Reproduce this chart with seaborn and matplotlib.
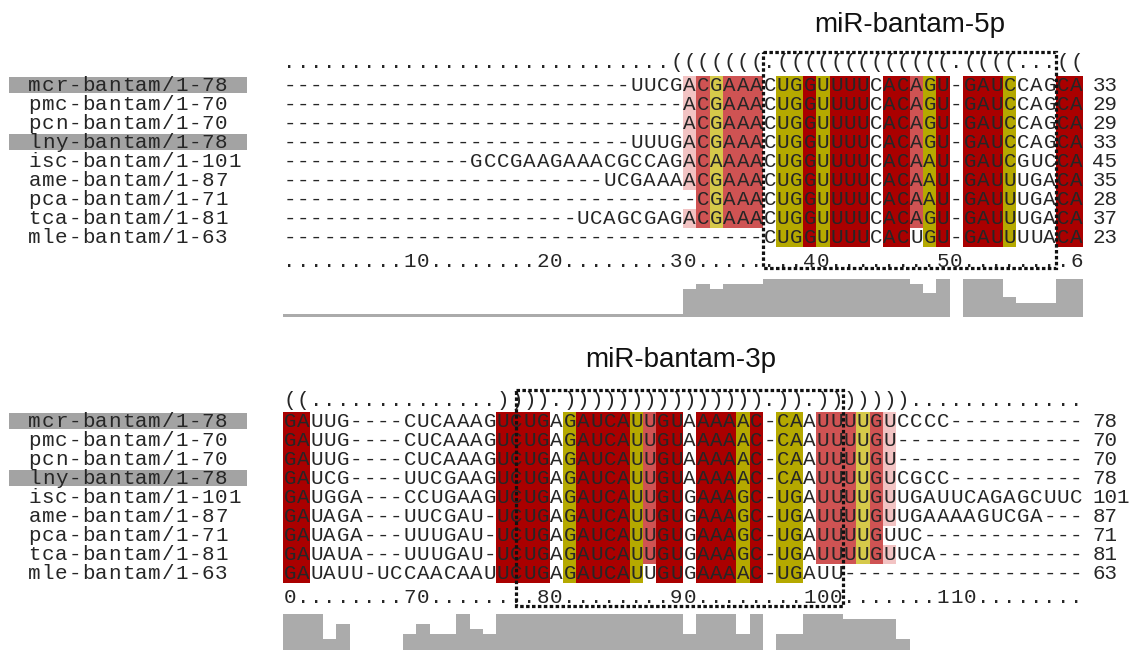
import numpy as np
import pandas as pd
import seaborn as sns
import matplotlib
import matplotlib.pyplot as plt
from matplotlib.colors import ListedColormap
from matplotlib.patches import Rectangle

matplotlib.use('agg')
sns.set_style("white")
plt.rcParams['font.family'] = ['Liberation Mono', 'DejaVu Sans Mono']

names = ["mcr-bantam/1-78", "pmc-bantam/1-70", "pcn-bantam/1-70", "lny-bantam/1-78",
         "isc-bantam/1-101", "ame-bantam/1-87", "pca-bantam/1-71", "tca-bantam/1-81",
         "mle-bantam/1-63"]
highlighted = ["mcr-bantam/1-78", "lny-bantam/1-78"]

# alignment columns 1-60
seq_top = [
    "-" * 26 + "UUCGACGAAACUGGUUUUCACAGU-GAUCCAGCA",
    "-" * 30 + "ACGAAACUGGUUUUCACAGU-GAUCCAGCA",
    "-" * 30 + "ACGAAACUGGUUUUCACAGU-GAUCCAGCA",
    "-" * 26 + "UUUGACGAAACUGGUUUUCACAGU-GAUCCAGCA",
    "-" * 14 + "GCCGAAGAAACGCCAGACAAAACUGGUUUUCACAAU-GAUCGUCCA",
    "-" * 24 + "UCGAAAACGAAACUGGUUUUCACAAU-GAUUUGACA",
    "-" * 31 + "CGAAACUGGUUUUCACAAU-GAUUUGACA",
    "-" * 22 + "UCAGCGAGACGAAACUGGUUUUCACAGU-GAUUUGACA",
    "-" * 36 + "CUGGUUUUCACUGU-GAUUUUACA",
]
# alignment columns 61-120
seq_bottom = [
    "GAUUG----CUCAAAGUCUGAGAUCAUUGUAAAAAC-CAAUUUUGUCCCC" + "-" * 10,
    "GAUUG----CUCAAAGUCUGAGAUCAUUGUAAAAAC-CAAUUUUGU" + "-" * 14,
    "GAUUG----CUCAAAGUCUGAGAUCAUUGUAAAAAC-CAAUUUUGU" + "-" * 14,
    "GAUCG----UUCGAAGUCUGAGAUCAUUGUAAAAAC-CAAUUUUGUCGCC" + "-" * 10,
    "GAUGGA---CCUGAAGUCUGAGAUCAUUGUGAAAGC-UGAUUUUGUUGAUUCAGAGCUUC",
    "GAUAGA---UUCGAU-UCUGAGAUCAUUGUGAAAGC-UGAUUUUGUUGAAAAGUCGA---",
    "GAUAGA---UUUGAU-UCUGAGAUCAUUGUGAAAGC-UGAUUUUGUUC" + "-" * 12,
    "GAUAUA---UUUGAU-UCUGAGAUCAUUGUGAAAGC-UGAUUUUGUUCA" + "-" * 11,
    "GAUAUU-UCCAACAAUUCUGAGAUCAUUGUGAAAAC-UGAUU" + "-" * 18,
]
count_top = [33, 29, 29, 33, 45, 35, 28, 37, 23]
count_bottom = [78, 70, 70, 78, 101, 87, 71, 81, 63]

struct_top = "." * 29 + "(" * 7 + "." + "(" * 13 + "." + "((((" + "..." + "(("
struct_bottom = "((" + "." * 14 + "))))" + "." + ")" * 15 + "." + "))" + "." + ")" * 7 + "." * 13
ruler_top = ".........10........20........30........40........50........6"
ruler_bottom = "0........70........80........90........100.......110........"

# shading of base pairs, keyed by the opening column
shade_cols = [31, 32, 33, 34, 35, 36, 38, 39, 40, 41, 42, 43, 44, 46, 47,
              48, 49, 50, 52, 53, 54, 55, 59, 60, 61, 62]
shade_kind = ["pink", "mid", "yellow", "mid", "mid", "mid", "olive", "olive", "dark", "olive",
              "dark", "dark", "dark", "dark", "dark", "mid", "olive", "dark", "dark", "dark",
              "dark", "olive", "dark", "dark", "dark", "dark"]
kinds = ["pink", "mid", "yellow", "olive", "dark"]
kind_colors = ["#f2c3c3", "#cf5353", "#d6c94a", "#b5a900", "#aa0000"]

# conservation histogram heights
cons_top = [0.07, 0.07, 0.07, 0.07, 0.07, 0.07, 0.07, 0.07, 0.07, 0.07,
            0.07, 0.07, 0.07, 0.07, 0.07, 0.07, 0.07, 0.07, 0.07, 0.07,
            0.07, 0.07, 0.07, 0.07, 0.07, 0.07, 0.07, 0.07, 0.07, 0.07,
            0.75, 0.86, 0.75, 0.86, 0.86, 0.86, 1.0, 1.0, 1.0, 1.0,
            1.0, 1.0, 1.0, 1.0, 1.0, 1.0, 1.0, 0.86, 0.64, 1.0,
            0.0, 1.0, 1.0, 1.0, 0.52, 0.38, 0.38, 0.38, 1.0, 1.0]
cons_bottom = [1.0, 1.0, 1.0, 0.34, 0.73, 0.0, 0.0, 0.0, 0.0, 0.47,
               0.73, 0.47, 0.47, 1.0, 0.61, 0.47, 1.0, 1.0, 1.0, 1.0,
               1.0, 1.0, 1.0, 1.0, 1.0, 1.0, 1.0, 1.0, 1.0, 1.0,
               0.47, 1.0, 1.0, 1.0, 0.47, 1.0, 0.0, 0.47, 0.47, 1.0,
               1.0, 1.0, 0.87, 0.87, 0.87, 0.87, 0.34, 0.0, 0.0, 0.0,
               0.0, 0.0, 0.0, 0.0, 0.0, 0.0, 0.0, 0.0, 0.0, 0.0]

W, H = 1143, 650
X0, CW, RH = 283, 800 / 60, 19
TXT = "#262626"
FS = 15

# pair up the columns from the dot-bracket line
full_seq = [a + b for a, b in zip(seq_top, seq_bottom)]
structure = struct_top + struct_bottom
stack, pairs = [], []
for i, ch in enumerate(structure):
    if ch == "(":
        stack.append(i)
    elif ch == ")":
        pairs.append((stack.pop(), i))

valid = {"AU", "UA", "GC", "CG", "GU", "UG"}
codes = np.full((len(names), 120), np.nan)
for i, j in pairs:
    if i + 1 not in shade_cols:
        continue
    k = kinds.index(shade_kind[shade_cols.index(i + 1)])
    for r, s in enumerate(full_seq):
        if s[i] + s[j] in valid:
            codes[r, i] = k
            codes[r, j] = k

fig = plt.figure(figsize=(W / 100, H / 100), dpi=100)


def draw_block(b, top_px, seqs, struct, ruler, counts, struct_y, ruler_y, box, title_xy, title):
    ax = fig.add_axes([0, 0, 1, 1])
    ax.set_facecolor("none")
    block = codes[:, 60 * b:60 * (b + 1)]
    df = pd.DataFrame(block)
    sns.heatmap(df, mask=np.isnan(block), cmap=ListedColormap(kind_colors),
                vmin=-0.5, vmax=4.5, cbar=False, ax=ax,
                xticklabels=False, yticklabels=False)
    ax.set_xlim(-X0 / CW, (W - X0) / CW)
    ax.set_ylim((H - top_px) / RH, -top_px / RH)
    ax.set_axis_off()

    for r, (name, s) in enumerate(zip(names, seqs)):
        y = r + 0.5
        if name in highlighted:
            ax.add_patch(Rectangle((-20.55, r + 0.05), 17.85, 0.86,
                                   facecolor="#a3a3a3", edgecolor="none", zorder=1))
        for i, ch in enumerate(name):
            ax.text(-18.625 + i, y, ch, ha="center", va="center", fontsize=FS,
                    color=TXT, zorder=3)
        for j, ch in enumerate(s):
            ax.text(j + 0.5, y, ch, ha="center", va="center", fontsize=FS,
                    color=TXT, zorder=3)
        ax.text(60.7, y, str(counts[r]), ha="left", va="center", fontsize=FS,
                color=TXT, zorder=3)

    for j, ch in enumerate(struct):
        ax.text(j + 0.5, struct_y, ch, ha="center", va="center", fontsize=FS,
                color=TXT)
    for j, ch in enumerate(ruler):
        ax.text(j + 0.5, ruler_y, ch, ha="center", va="center", fontsize=FS,
                color=TXT)

    x0, y0, x1, y1 = box
    ax.add_patch(Rectangle((x0, y0), x1 - x0, y1 - y0, fill=False, edgecolor="#111111",
                           linewidth=2.3, linestyle=(0, (1.1, 0.75)), zorder=4,
                           clip_on=False))
    ax.text(title_xy[0], title_xy[1], title, ha="center", va="center",
            fontsize=20, family=["Liberation Sans", "DejaVu Sans"], color="#111111")


def draw_hist(base_px, values):
    axh = fig.add_axes([X0 / W, 1 - base_px / H, 800 / W, 38 / H])
    sns.barplot(x=np.arange(1, 61), y=values, native_scale=True, width=1,
                color="#ababab", saturation=1, linewidth=0, errorbar=None, ax=axh)
    axh.set_xlim(0.5, 60.5)
    axh.set_ylim(0, 1)
    axh.set_axis_off()


draw_block(0, 76, seq_top, struct_top, ruler_top, count_top, -0.72, 9.75,
           (36, -1.26, 58, 10.1), (47.0, -2.68), "miR-bantam-5p")
draw_block(1, 411.7, seq_bottom, struct_bottom, ruler_bottom, count_bottom, -0.6, 9.78,
           (17.5, -1.14, 42.0, 10.25), (29.8, -2.72), "miR-bantam-3p")
draw_hist(317, cons_top)
draw_hist(652, cons_bottom)

fig.savefig("out.png", dpi=100, facecolor="white")
